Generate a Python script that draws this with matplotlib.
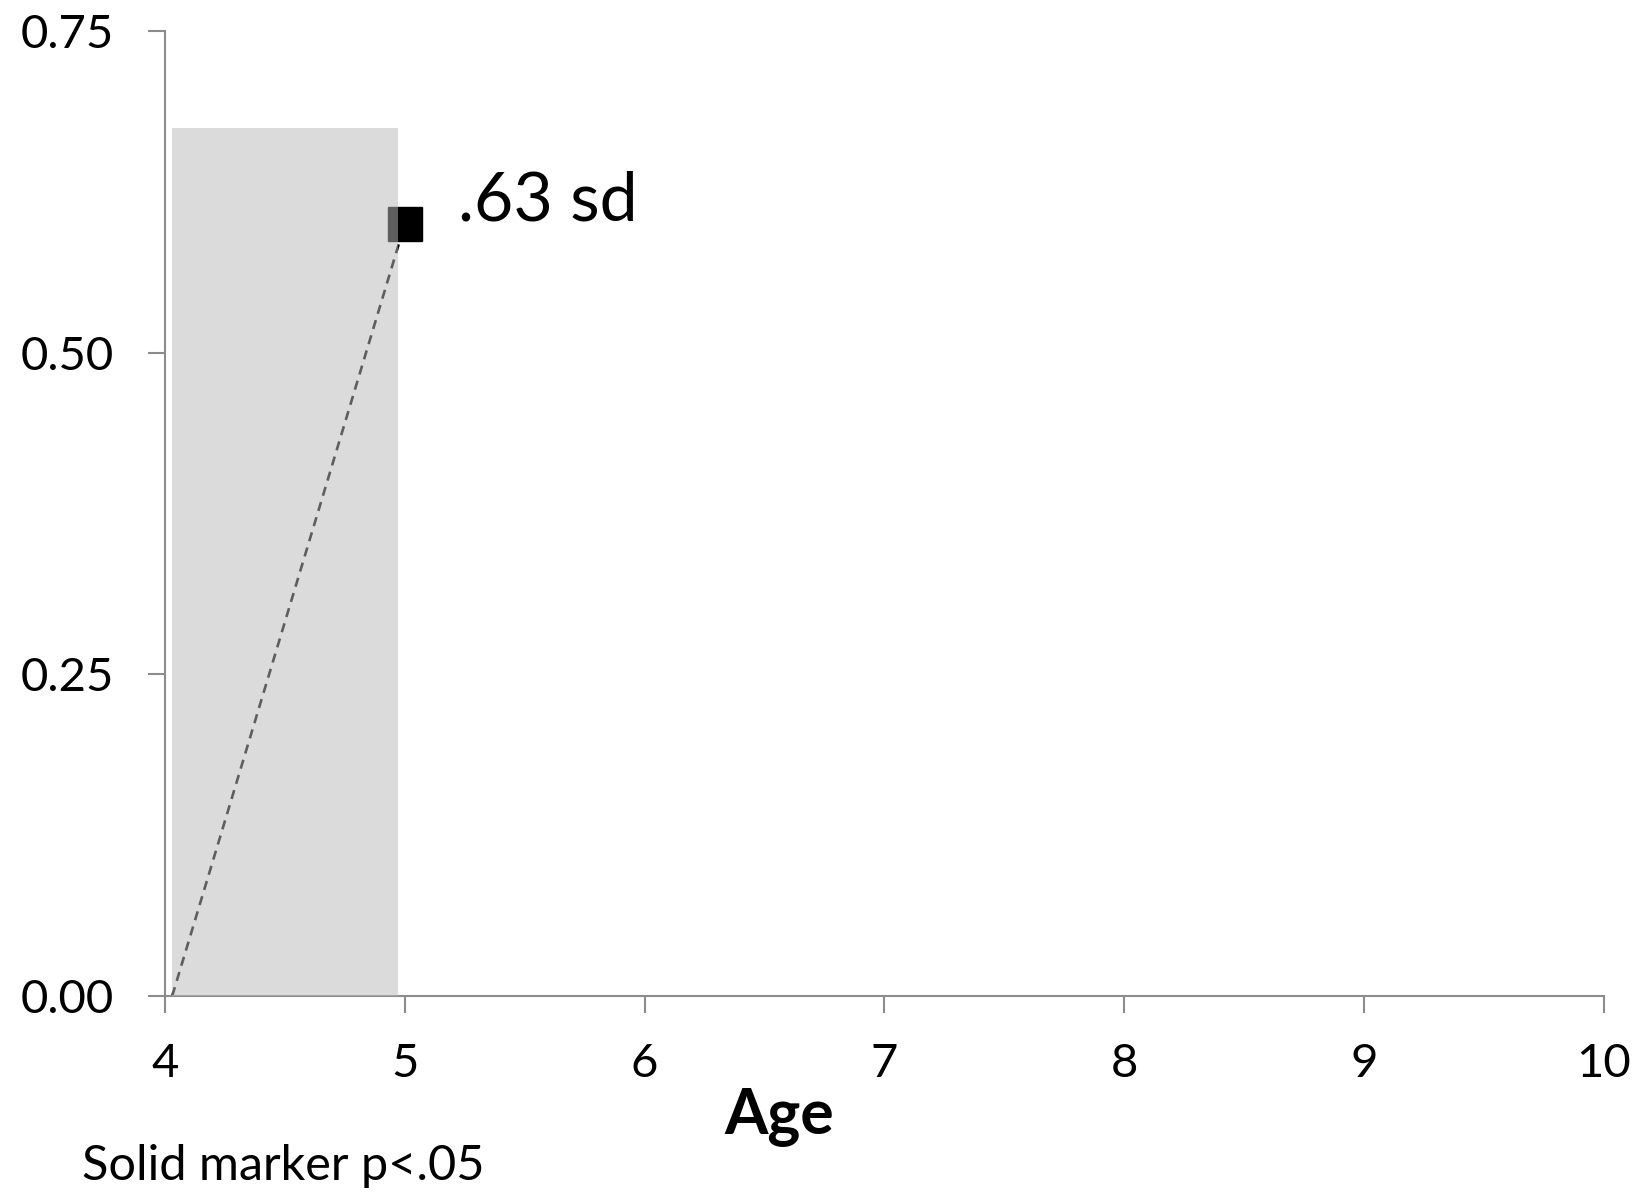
import matplotlib
matplotlib.use("Agg")
import matplotlib.pyplot as plt

plt.rcParams['font.family'] = ['Lato', 'DejaVu Sans']

# data
ages = [4.03, 5.0]
effect = [0.0, 0.60]
point_age = [5.0]
point_effect = [0.60]
label_text = ".63 sd"
shade_x = [4.03, 4.97]
shade_top = 0.675
xticks = [4, 5, 6, 7, 8, 9, 10]
yticks = [0.00, 0.25, 0.50, 0.75]
ytick_labels = ["0.00", "0.25", "0.50", "0.75"]

fig = plt.figure(figsize=(16.4, 11.97), dpi=100)
ax = fig.add_axes([0.1006, 0.1679, 0.8774, 0.8062])

ax.plot(ages, effect, linestyle=(0, (3.5, 2.5)), color='black', lw=1.9, zorder=2)
ax.plot(point_age, point_effect, marker='s', markersize=24, color='black',
        linestyle='none', zorder=3)
ax.fill_between(shade_x, 0, shade_top, color=(186/255, 186/255, 186/255),
                alpha=0.51, lw=0, zorder=4)
ax.annotate(label_text, xy=(point_age[0], point_effect[0]), xytext=(38, 16),
            textcoords='offset points', fontsize=49, va='center', ha='left')

ax.set_xlim(4, 10)
ax.set_ylim(0, 0.75)
ax.set_xticks(xticks)
ax.set_xticklabels([str(t) for t in xticks])
ax.set_yticks(yticks)
ax.set_yticklabels(ytick_labels)

for s in ['top', 'right']:
    ax.spines[s].set_visible(False)
for s in ['left', 'bottom']:
    ax.spines[s].set_color('#8c8c8c')
    ax.spines[s].set_linewidth(1.5)
ax.tick_params(axis='both', colors='#8c8c8c', length=12, width=1.5,
               labelcolor='black', labelsize=34)
ax.tick_params(axis='x', pad=22)
ax.tick_params(axis='y', pad=25)

fig.text(0.475, 0.067, "Age", fontsize=45, fontweight='bold', ha='center', va='center')
fig.text(0.05, 0.026, "Solid marker p<.05", fontsize=35, ha='left', va='center')

fig.savefig("out.png", dpi=100)
